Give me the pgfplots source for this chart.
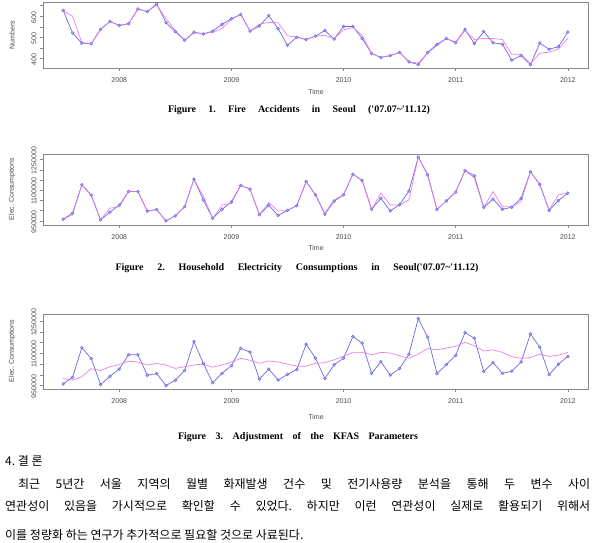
\documentclass[border=0pt]{standalone}
\usepackage{fontspec}
\setmainfont{Liberation Serif}
\setsansfont{Liberation Sans}
\newfontfamily\kr{Noto Sans CJK KR}
\newfontfamily\capfont{Liberation Serif}[Ligatures=TeXOff]
\usepackage{pgfplots}
\usepackage{pgfplotstable}
\pgfplotsset{compat=1.18}
\definecolor{lblue}{RGB}{105,105,228}
\definecolor{mfill}{RGB}{178,178,250}
\definecolor{lmag}{RGB}{235,115,235}
\definecolor{framec}{RGB}{135,135,135}
\definecolor{txt}{RGB}{75,75,75}
\pgfplotstableread{
i fb fm
0 628 625
1 521 601
2 473 475
3 470 470
4 538 538
5 576 576
6 557 557
7 565 565
8 635 635
9 622 622
10 659 654
11 570 590
12 527 532
13 487 487
14 525 522
15 516 519
16 530 524
17 562 543
18 589 586
19 609 609
20 530 530
21 554 563
22 603 571
23 541 570
24 463 508
25 501 502
26 490 490
27 506 506
28 533 510
29 492 495
30 552 535
31 552 548
32 495 510
33 424 424
34 405 405
35 414 414
36 429 429
37 384 384
38 371 378
39 429 425
40 467 462
41 495 495
42 475 478
43 538 533
44 471 490
45 528 495
46 475 495
47 468 490
48 392 420
49 414 420
50 371 375
51 473 425
52 444 430
53 456 445
54 525 495
}\firetab
\pgfplotstableread{
i eb e2m e3m
0 958000 958000 983000
1 988000 980000 975000
2 1127000 1127000 992000
3 1076000 1076000 1029000
4 955000 955000 1020000
5 993000 1012000 1038000
6 1027000 1020000 1048000
7 1094000 1094000 1064000
8 1094000 1094000 1060000
9 998000 998000 1046000
10 1006000 1006000 1053000
11 950000 950000 1046000
12 975000 975000 1030000
13 1020000 1020000 1038000
14 1155000 1155000 1046000
15 1053000 1070000 1050000
16 963000 963000 1036000
17 1007000 1028000 1046000
18 1043000 1037000 1060000
19 1124000 1124000 1077000
20 1106000 1106000 1068000
21 980000 980000 1054000
22 1027000 1040000 1065000
23 976000 999000 1060000
24 1002000 1000000 1050000
25 1025000 1025000 1040000
26 1143000 1143000 1040000
27 1078000 1078000 1054000
28 983000 988000 1057000
29 1047000 1053000 1070000
30 1078000 1078000 1086000
31 1179000 1179000 1105000
32 1148000 1148000 1105000
33 1007000 1007000 1094000
34 1061000 1086000 1105000
35 999000 1028000 1102000
36 1030000 1028000 1089000
37 1096000 1053000 1077000
38 1263000 1263000 1097000
39 1176000 1176000 1123000
40 1006000 1006000 1117000
41 1048000 1048000 1125000
42 1091000 1091000 1133000
43 1197000 1197000 1152000
44 1171000 1160000 1136000
45 1016000 1016000 1111000
46 1057000 1094000 1117000
47 1007000 1020000 1105000
48 1017000 1020000 1085000
49 1060000 1045000 1077000
50 1191000 1191000 1081000
51 1129000 1129000 1097000
52 1001000 1004000 1086000
53 1050000 1078000 1092000
54 1086000 1086000 1105000
}\electab
\pgfplotsset{
  rstyle/.style={
    scale only axis, width=545pt, xmin=2007.32, xmax=2012.18,
    anchor=south west,
    axis line style={framec, line width=0.6pt},
    tick style={framec, line width=0.6pt},
    tick align=outside, major tick length=3pt,
    xtick pos=lower, ytick pos=left,
    xtick={2008,2009,2010,2011,2012},
    xticklabels={2008,2009,2010,2011,2012},
    scaled y ticks=false,
    ticklabel style={font=\sffamily\fontsize{7}{8}\selectfont, text=txt},
    xticklabel style={yshift=-3pt},
    yticklabel style={rotate=90, anchor=south, xshift=-1pt},
    clip=false,
  },
  bl/.style={color=lblue, line width=0.7pt, mark=*, mark size=1.4pt,
    mark options={fill=mfill, draw=lblue, line width=0.5pt}},
  mg/.style={color=lmag, line width=0.7pt, no marks, opacity=0.9},
}
\begin{document}
\frenchspacing
\begin{tikzpicture}[x=1pt,y=1pt]
\useasboundingbox (0,0) rectangle (594,542);
\fill[white] (0,0) rectangle (594,542);
% Chart 1
\begin{axis}[rstyle, at={(43pt,474pt)}, height=66pt, ymin=355, ymax=668,
  ytick={400,450,500,550,600,650}, yticklabels={400,,500,,600,}]
\addplot[bl] table[x expr=2007.5+\thisrow{i}/12, y=fb] {\firetab};
\addplot[mg] table[x expr=2007.5+\thisrow{i}/12, y=fm] {\firetab};
\end{axis}
\node[rotate=90, font=\sffamily\fontsize{7}{8}\selectfont, text=txt] at (12,507) {Numbers};
\node[font=\sffamily\fontsize{7}{8}\selectfont, text=txt] at (316,450) {Time};
\node[font=\capfont\bfseries\fontsize{10}{12}\selectfont] at (299,432) {\makebox[262pt][s]{Figure\ \ 1.\ \ Fire\ \ Accidents\ \ in\ \ Seoul\ \ ('07.07\textasciitilde'11.12)}};
% Chart 2
\begin{axis}[rstyle, at={(43pt,317pt)}, height=71pt, ymin=930000, ymax=1278000,
  ytick={950000,1000000,1050000,1100000,1150000,1200000,1250000},
  yticklabels={950000,,,1100000,,,1250000}]
\addplot[bl] table[x expr=2007.5+\thisrow{i}/12, y=eb] {\electab};
\addplot[mg] table[x expr=2007.5+\thisrow{i}/12, y=e2m] {\electab};
\end{axis}
\node[rotate=90, font=\sffamily\fontsize{7}{8}\selectfont, text=txt] at (12,353) {Elec. Consumptions};
\node[font=\sffamily\fontsize{7}{8}\selectfont, text=txt] at (316,294) {Time};
\node[font=\capfont\bfseries\fontsize{10}{12}\selectfont] at (297,274) {\makebox[363pt][s]{Figure\ \ 2.\ \ Household\ \ Electricity\ \ Consumptions\ \ in\ \ Seoul('07.07\textasciitilde'11.12)}};
% Chart 3
\begin{axis}[rstyle, at={(43pt,153pt)}, height=75pt, ymin=934000, ymax=1284000,
  ytick={950000,1000000,1050000,1100000,1150000,1200000,1250000},
  yticklabels={950000,,,1100000,,,1250000}]
\addplot[bl] table[x expr=2007.5+\thisrow{i}/12, y=eb] {\electab};
\addplot[mg] table[x expr=2007.5+\thisrow{i}/12, y=e3m] {\electab};
\end{axis}
\node[rotate=90, font=\sffamily\fontsize{7}{8}\selectfont, text=txt] at (12,191) {Elec. Consumptions};
\node[font=\sffamily\fontsize{7}{8}\selectfont, text=txt] at (316,125) {Time};
\node[font=\capfont\bfseries\fontsize{10}{12}\selectfont] at (298,105) {\makebox[240pt][s]{Figure\ \ 3.\ \ Adjustment\ \ of\ \ the\ \ KFAS\ \ Parameters}};
% Korean text
\begin{scope}
\clip (0,0) rectangle (594,542);
\node[anchor=west, inner sep=0pt, font=\kr\fontsize{12}{14}\selectfont] at (5,81) {4.\ 결\ 론};
\node[anchor=west, inner sep=0pt, font=\kr\fontsize{12}{14}\selectfont] at (18,58) {\makebox[572pt][s]{최근 5년간 서울 지역의 월별 화재발생 건수 및 전기사용량 분석을 통해 두 변수 사이}};
\node[anchor=west, inner sep=0pt, font=\kr\fontsize{12}{14}\selectfont] at (5,36) {\makebox[585pt][s]{연관성이 있음을 가시적으로 확인할 수 있었다. 하지만 이런 연관성이 실제로 활용되기 위해서}};
\node[anchor=west, inner sep=0pt, font=\kr\fontsize{12}{14}\selectfont] at (5,7) {이를 정량화 하는 연구가 추가적으로 필요할 것으로 사료된다.};
\end{scope}
\end{tikzpicture}
\end{document}
